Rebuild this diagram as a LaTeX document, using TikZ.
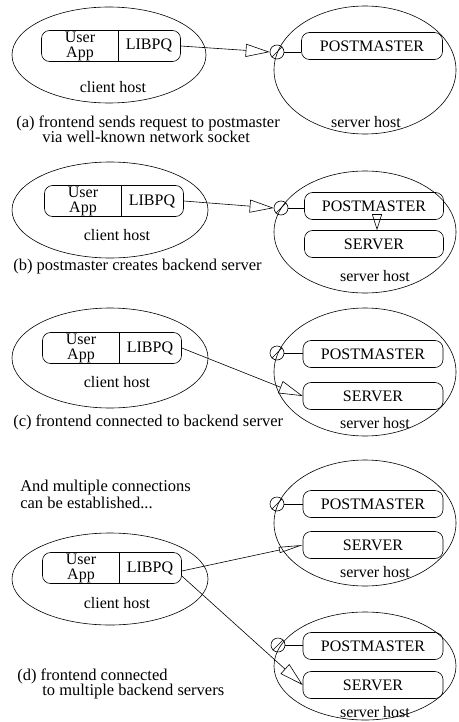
\documentclass[tikz,border=0pt]{standalone}
\usepackage{fontspec}
\setmainfont{Liberation Serif}
\usetikzlibrary{shapes.geometric,arrows.meta}
\begin{document}
\begin{tikzpicture}[x=1pt,y=-1pt,line width=0.6pt,
  hostell/.style={draw, ellipse, inner sep=0pt},
  pbox/.style={draw, rounded corners=8pt, inner sep=0pt, minimum height=27pt,
    font=\fontsize{16}{16}\selectfont},
  abox/.style={draw, rounded corners=8pt, inner sep=0pt, minimum width=139pt, minimum height=31pt},
  lbl/.style={inner sep=0pt, align=center, font=\fontsize{16}{15}\selectfont},
  hosttxt/.style={inner sep=0pt, font=\fontsize{16}{16}\selectfont},
  captxt/.style={inner sep=0pt, anchor=west, font=\fontsize{16.5}{16.5}\selectfont},
  sock/.style={draw, circle, minimum size=14pt, inner sep=0pt},
  openarrow/.style={-{Triangle[open,length=24pt,width=13pt]}},
  thinarrow/.style={-{Triangle[open,length=24pt,width=6pt]}},
  smallarrow/.style={-{Triangle[open,length=16pt,width=10pt]}}
]
\useasboundingbox (0,0) rectangle (458,722);

% ---------------- panel (a)
\node[hostell, minimum width=194pt, minimum height=96pt] (ca) at (109,55) {};
\node[abox] (boxa) at (111,46) {};
\draw ([xshift=7pt]boxa.north) -- ([xshift=7pt]boxa.south);
\node[lbl] (usera) at (80,46) {User\\App};
\node[lbl] (liba) at (149,46) {LIBPQ};
\node[hosttxt] (cha) at (113,87) {client host};
\node[hostell, minimum width=182pt, minimum height=128pt] (sa) at (365,70) {};
\node[sock] (ka) at (277,52) {};
\draw (ka.south west) -- (ka.north east);
\node[pbox, minimum width=141pt] (pma) at (372,46) {POSTMASTER};
\draw (ka.east) -- (ka.east -| pma.west);
\node[hosttxt] (sha) at (366,122) {server host};
\node[captxt] (capa1) at (16,123) {(a) frontend sends request to postmaster};
\node[captxt] (capa2) at (42,137) {via well-known network socket};
\draw[openarrow] (boxa.east) -- (ka.west);

% ---------------- panel (b)
\node[hostell, minimum width=196pt, minimum height=96pt] (cb) at (110,210) {};
\node[abox] (boxb) at (114,201) {};
\draw ([xshift=7pt]boxb.north) -- ([xshift=7pt]boxb.south);
\node[lbl] (userb) at (83,201) {User\\App};
\node[lbl] (libb) at (152,201) {LIBPQ};
\node[hosttxt] (chb) at (117,235) {client host};
\node[hostell, minimum width=182pt, minimum height=122pt] (sb) at (365,232) {};
\node[sock] (kb) at (281,208) {};
\draw (kb.south west) -- (kb.north east);
\node[pbox, minimum width=139pt] (pmb) at (374,206) {POSTMASTER};
\node[pbox, minimum width=139pt] (svb) at (374,244) {SERVER};
\draw (kb.east) -- (kb.east -| pmb.west);
\node[hosttxt] (shb) at (375,276) {server host};
\node[captxt] (capb) at (13,267) {(b) postmaster creates backend server};
\draw[openarrow] (boxb.east) -- (kb.west);
\draw[smallarrow] ([xshift=3pt,yshift=6pt]pmb.south) -- ([xshift=3pt]svb.north);

% ---------------- panel (c)
\node[hostell, minimum width=196pt, minimum height=100pt] (cc) at (110,358) {};
\node[abox] (boxc) at (112,348) {};
\draw ([xshift=7pt]boxc.north) -- ([xshift=7pt]boxc.south);
\node[lbl] (userc) at (81,348) {User\\App};
\node[lbl] (libc) at (150,348) {LIBPQ};
\node[hosttxt] (chc) at (117,382) {client host};
\node[hostell, minimum width=182pt, minimum height=128pt] (sc) at (365,372) {};
\node[sock] (kc) at (277,353) {};
\draw (kc.south west) -- (kc.north east);
\node[pbox, minimum width=140pt] (pmc) at (373,354) {POSTMASTER};
\node[pbox, minimum width=140pt] (svc) at (373,396) {SERVER};
\draw (kc.east) -- (kc.east -| pmc.west);
\node[hosttxt] (shc) at (375,423) {server host};
\node[captxt] (capc) at (13,422) {(c) frontend connected to backend server};
\draw[openarrow] (boxc.east) -- (svc.west);

% ---------------- panel (d)
\node[captxt] (txd1) at (20,488) {And multiple connections};
\node[captxt] (txd2) at (20,503) {can be established...};
\node[hostell, minimum width=182pt, minimum height=126pt] (sd1) at (365,523) {};
\node[sock] (kd1) at (277,504) {};
\draw (kd1.south west) -- (kd1.north east);
\node[pbox, minimum width=140pt] (pmd1) at (373,504) {POSTMASTER};
\node[pbox, minimum width=140pt] (svd1) at (373,545) {SERVER};
\draw (kd1.east) -- (kd1.east -| pmd1.west);
\node[hosttxt] (shd1) at (375,572) {server host};

\node[hostell, minimum width=196pt, minimum height=92pt] (cd) at (110,579) {};
\node[abox] (boxd) at (112,568) {};
\draw ([xshift=7pt]boxd.north) -- ([xshift=7pt]boxd.south);
\node[lbl] (userd) at (81,568) {User\\App};
\node[lbl] (libd) at (150,568) {LIBPQ};
\node[hosttxt] (chd) at (117,603) {client host};

\node[hostell, minimum width=182pt, minimum height=108pt] (sd2) at (365,666) {};
\node[sock] (kd2) at (278,645) {};
\draw (kd2.south west) -- (kd2.north east);
\node[pbox, minimum width=140pt] (pmd2) at (373,646) {POSTMASTER};
\node[pbox, minimum width=140pt] (svd2) at (373,685) {SERVER};
\draw (kd2.east) -- (kd2.east -| pmd2.west);
\node[hosttxt] (shd2) at (375,712) {server host};
\node[captxt] (capd1) at (17,676) {(d) frontend connected};
\node[captxt] (capd2) at (42,692) {to multiple backend servers};

\draw[thinarrow] ([yshift=-3pt]boxd.east) -- (svd1.west);
\draw[openarrow] ([yshift=-8pt]boxd.east) -- (svd2.west);
\end{tikzpicture}
\end{document}
